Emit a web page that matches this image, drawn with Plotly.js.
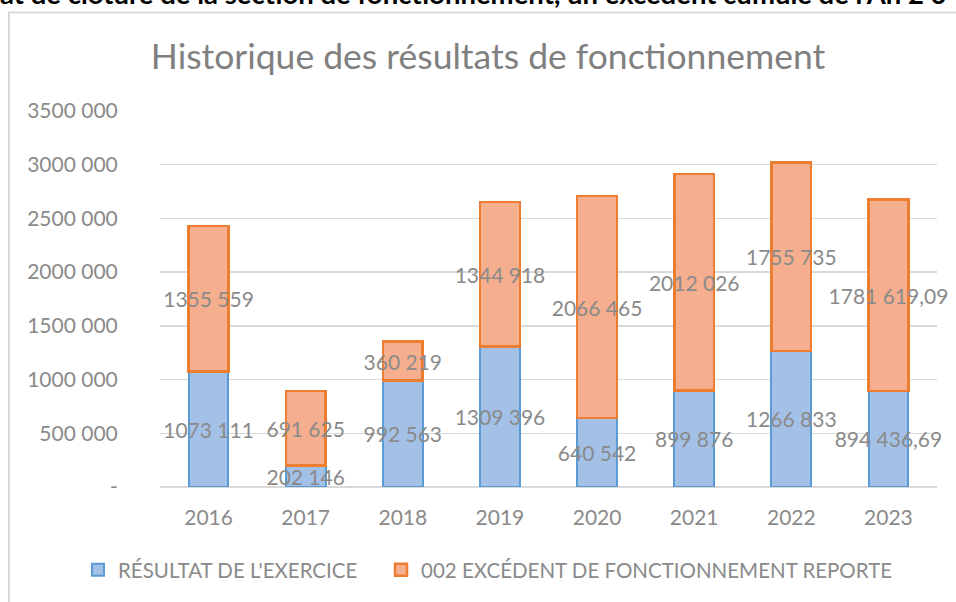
<!DOCTYPE html>
<html>
<head>
<meta charset="utf-8">
<script src="https://cdn.plot.ly/plotly-3.0.1.min.js"></script>
<style>
html, body { margin: 0; padding: 0; background: #ffffff; overflow: hidden; }
#chart { width: 956px; height: 602px; }
</style>
</head>
<body>
<div id="chart"></div>
<script>
// ---- data ----
var years = ['2016', '2017', '2018', '2019', '2020', '2021', '2022', '2023'];
var resultatExercice = [1073111, 202146, 992563, 1309396, 640542, 899876, 1266833, 894436.69];
var excedentReporte = [1355559, 691625, 360219, 1344918, 2066465, 2012026, 1755735, 1781619.09];
var seriesNames = ["RÉSULTAT DE L'EXERCICE", "002 EXCÉDENT DE FONCTIONNEMENT REPORTE"];
var yTickValues = [0, 500000, 1000000, 1500000, 2000000, 2500000, 3000000, 3500000];
var yTickLabels = ['-', '500 000', '1000 000', '1500 000', '2000 000', '2500 000', '3000 000', '3500 000'];
var chartTitle = 'Historique des résultats de fonctionnement';
var headerText = "at de clôture de la section de fonctionnement, un excédent cumulé de l'An 2 0";

// French-style label: last group of three digits separated by a space, decimal comma
function fmt(v) {
  var neg = v < 0; v = Math.abs(v);
  var intPart = Math.floor(v);
  var dec = Math.round((v - intPart) * 100);
  var s = String(intPart);
  if (s.length > 3) s = s.slice(0, s.length - 3) + ' ' + s.slice(s.length - 3);
  if (dec > 0) s += ',' + (dec < 10 ? '0' + dec : dec);
  return (neg ? '-' : '') + s;
}

var FONT = 'Lato, "Open Sans", sans-serif';
var GREY = '#8a8a8a';

var trace1 = {
  type: 'bar', name: seriesNames[0], x: years, y: resultatExercice,
  text: resultatExercice.map(fmt), textposition: 'inside', insidetextanchor: 'middle',
  textangle: 0, constraintext: 'none', cliponaxis: false,
  textfont: { family: FONT, size: 21, color: GREY },
  marker: { color: '#a3c0e6', line: { color: '#5b9bd5', width: 2 } },
  legend: 'legend', hoverinfo: 'x+y'
};
var trace2 = {
  type: 'bar', name: seriesNames[1], x: years, y: excedentReporte,
  text: excedentReporte.map(fmt), textposition: 'inside', insidetextanchor: 'middle',
  textangle: 0, constraintext: 'none', cliponaxis: false,
  textfont: { family: FONT, size: 21, color: GREY },
  marker: { color: '#f5ae8e', line: { color: '#ed7d31', width: 2.5 } },
  legend: 'legend2', hoverinfo: 'x+y'
};

var ML = 160, MR = 19, MT = 111, MB = 115, W = 956, H = 602;
var PW = W - ML - MR, PH = H - MT - MB;
function px(x) { return (x - ML) / PW; }
function py(y) { return (H - MB - y) / PH; }

var legendFont = { family: FONT, size: 20.5, color: GREY };

var layout = {
  width: W, height: H,
  margin: { l: ML, r: MR, t: MT, b: MB, pad: 0 },
  paper_bgcolor: '#ffffff', plot_bgcolor: '#ffffff',
  barmode: 'stack', bargap: 0.59,
  font: { family: FONT, color: GREY },
  title: {
    text: chartTitle, font: { family: FONT, size: 35.5, color: '#808080' },
    x: 488 / W, xref: 'container', xanchor: 'center',
    y: 1 - 57 / H, yref: 'container', yanchor: 'middle'
  },
  xaxis: {
    type: 'category', showgrid: false, zeroline: false, showline: false,
    ticks: 'outside', ticklen: 12, tickcolor: 'rgba(0,0,0,0)',
    tickfont: { family: FONT, size: 21, color: GREY }, fixedrange: true
  },
  yaxis: {
    range: [0, 3500000], tickvals: yTickValues, ticktext: yTickLabels,
    showgrid: true, gridcolor: '#d9d9d9', gridwidth: 1.5,
    zeroline: true, zerolinecolor: '#d9d9d9', zerolinewidth: 1.5,
    showline: false, ticks: 'outside', ticklen: 37, tickcolor: 'rgba(0,0,0,0)',
    tickfont: { family: FONT, size: 21, color: GREY }, fixedrange: true
  },
  legend: {
    orientation: 'h', x: px(78), xanchor: 'left', y: py(570), yanchor: 'middle',
    font: legendFont, itemclick: false, itemdoubleclick: false, bgcolor: 'rgba(0,0,0,0)'
  },
  legend2: {
    orientation: 'h', x: px(381), xanchor: 'left', y: py(570), yanchor: 'middle',
    font: legendFont, itemclick: false, itemdoubleclick: false, bgcolor: 'rgba(0,0,0,0)'
  },
  shapes: [
    { type: 'line', xref: 'paper', yref: 'paper', x0: px(9), x1: px(9), y0: py(12), y1: py(620),
      line: { color: '#d9d9d9', width: 2 } },
    { type: 'line', xref: 'paper', yref: 'paper', x0: px(8), x1: px(980), y0: py(12.5), y1: py(12.5),
      line: { color: '#d9d9d9', width: 2 } }
  ],
  annotations: [
    { xref: 'paper', yref: 'paper', x: px(-2), y: py(12.5), xanchor: 'left', yanchor: 'bottom',
      text: '<b>' + headerText + '</b>', showarrow: false,
      font: { family: FONT, size: 27.5, color: '#000000' } }
  ],
  showlegend: true
};

Plotly.newPlot('chart', [trace1, trace2], layout, { displayModeBar: false, staticPlot: true });
</script>
</body>
</html>
